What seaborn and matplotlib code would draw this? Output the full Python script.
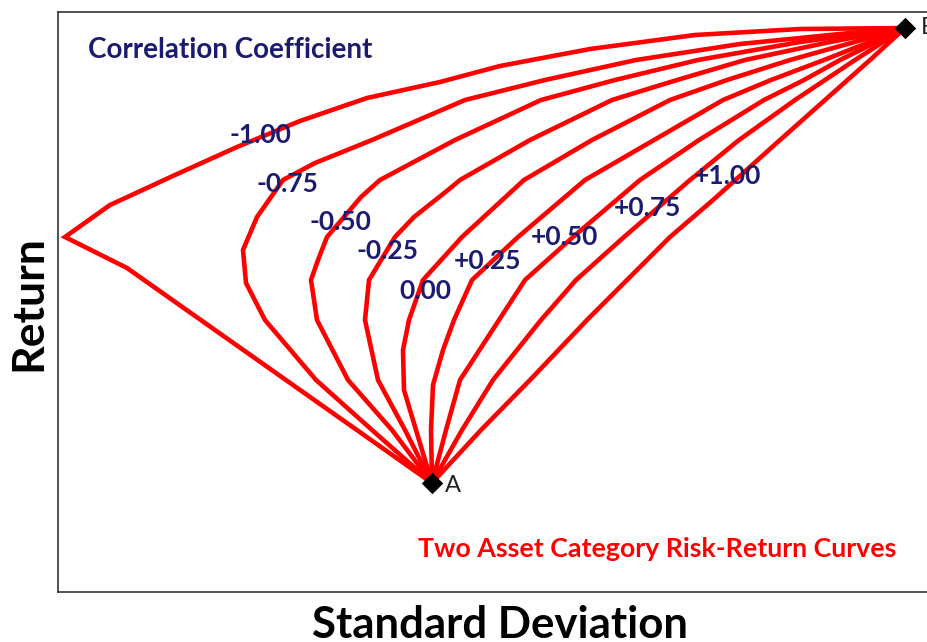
import matplotlib
matplotlib.use("Agg")
import matplotlib.pyplot as plt
import seaborn as sns
import pandas as pd

# ---- data (chart units: sd = risk, ret = return) ----
corr_labels = ["-1.00", "-0.75", "-0.50", "-0.25", "0.00", "+0.25", "+0.50", "+0.75", "+1.00"]

asset_names = ["A", "B"]
asset_sd = [382, 855]
asset_ret = [117, 572]

sd_m100 = [382, 77, 15, 60, 125, 187, 250, 317, 390, 450, 540, 645, 750, 855]
ret_m100 = [117, 332, 363, 395, 425, 453, 479, 502, 518, 534, 551, 565, 571, 572]

sd_m075 = [382, 322, 266, 215, 196, 193, 207, 233, 265, 322, 415, 495, 586, 690, 800, 855]
ret_m075 = [117, 170, 220, 280, 317, 350, 383, 420, 437, 460, 500, 520, 540, 556, 567, 572]

sd_m050 = [382, 342, 298, 267, 261, 268, 277, 311, 330, 405, 491, 565, 648, 750, 855]
ret_m050 = [117, 170, 220, 280, 320, 340, 363, 403, 420, 460, 500, 520, 540, 558, 572]

sd_m025 = [382, 355, 328, 315, 319, 345, 364, 398, 410, 480, 562, 627, 695, 780, 855]
ret_m025 = [117, 170, 220, 280, 320, 363, 383, 410, 420, 460, 500, 520, 540, 558, 572]

sd_000 = [382, 366, 354, 353, 359, 373, 412, 474, 542, 620, 677, 740, 855]
ret_000 = [117, 170, 210, 250, 280, 320, 363, 420, 460, 500, 520, 540, 572]

sd_p025 = [382, 381, 383, 393, 404, 422, 468, 535, 604, 673, 721, 774, 855]
ret_p025 = [117, 170, 215, 250, 280, 320, 363, 420, 460, 500, 520, 540, 572]

sd_p050 = [382, 396, 410, 449, 475, 523, 590, 649, 714, 754, 790, 855]
ret_p050 = [117, 170, 220, 280, 320, 363, 420, 460, 500, 520, 540, 572]

sd_p075 = [382, 412, 443, 491, 526, 574, 640, 689, 745, 775, 805, 855]
ret_p075 = [117, 170, 220, 280, 320, 363, 420, 460, 500, 520, 540, 572]

sd_p100 = [382, 431, 480, 537, 577, 620, 663, 730, 775, 820, 855]
ret_p100 = [117, 170, 220, 280, 320, 363, 400, 460, 500, 540, 572]

label_sd = [210, 237, 290, 338, 375, 438, 514, 597, 677]
label_ret = [465, 416, 378, 349, 309, 339, 363, 392, 424]

# ---- build long table ----
series = [sd_m100, sd_m075, sd_m050, sd_m025, sd_000, sd_p025, sd_p050, sd_p075, sd_p100]
rets = [ret_m100, ret_m075, ret_m050, ret_m025, ret_000, ret_p025, ret_p050, ret_p075, ret_p100]
rows = []
for lab, sds, rs in zip(corr_labels, series, rets):
    for i, (s, r) in enumerate(zip(sds, rs)):
        rows.append({"rho": lab, "order": i, "sd": s, "ret": r})
df = pd.DataFrame(rows)

sns.set_theme(style="white")
plt.rcParams["font.family"] = ["Lato", "DejaVu Sans"]

W, H = 928, 642
fig = plt.figure(figsize=(W / 100, H / 100), dpi=100)
ax = fig.add_axes([58 / W, 1 - 592 / H, (940 - 58) / W, (592 - 12) / H])

sns.lineplot(data=df, x="sd", y="ret", hue="rho", estimator=None, sort=False,
             palette={lab: "#ff0000" for lab in corr_labels}, linewidth=3.3,
             legend=False, ax=ax, solid_joinstyle="miter")
sns.scatterplot(x=asset_sd, y=asset_ret, marker="D", color="black", s=120,
                linewidth=0, ax=ax, zorder=5, legend=False)

navy = "#1b1b70"
for lab, x, y in zip(corr_labels, label_sd, label_ret):
    ax.text(x, y, lab, color=navy, fontsize=19, fontweight="bold",
            ha="center", va="center", zorder=6)

ax.text(38, 550, "Correlation Coefficient", color=navy, fontsize=20,
        fontweight="bold", ha="left", va="center")
ax.text(368, 51, "Two Asset Category Risk-Return Curves", color="#ff0000",
        fontsize=19.3, fontweight="bold", ha="left", va="center")
ax.text(asset_sd[0] + 13, asset_ret[0] - 3, asset_names[0], color="#222222",
        fontsize=17, ha="left", va="center")
ax.text(asset_sd[1] + 16, asset_ret[1], asset_names[1], color="#222222",
        fontsize=17, ha="left", va="center")

ax.set_xlim(8, 890)
ax.set_ylim(8, 588)
ax.set_xticks([])
ax.set_yticks([])
ax.set_xlabel("")
ax.set_ylabel("")
for sp in ax.spines.values():
    sp.set_color("#333333")
    sp.set_linewidth(1.2)

fig.text(500 / W, (H - 638) / H, "Standard Deviation", fontsize=31.5,
         fontweight="bold", color="black", ha="center", va="baseline")
fig.text(28 / W, 1 - 303 / H, "Return", fontsize=32, fontweight="bold",
         color="black", ha="center", va="center", rotation=90)

fig.savefig("out.png", dpi=100)
